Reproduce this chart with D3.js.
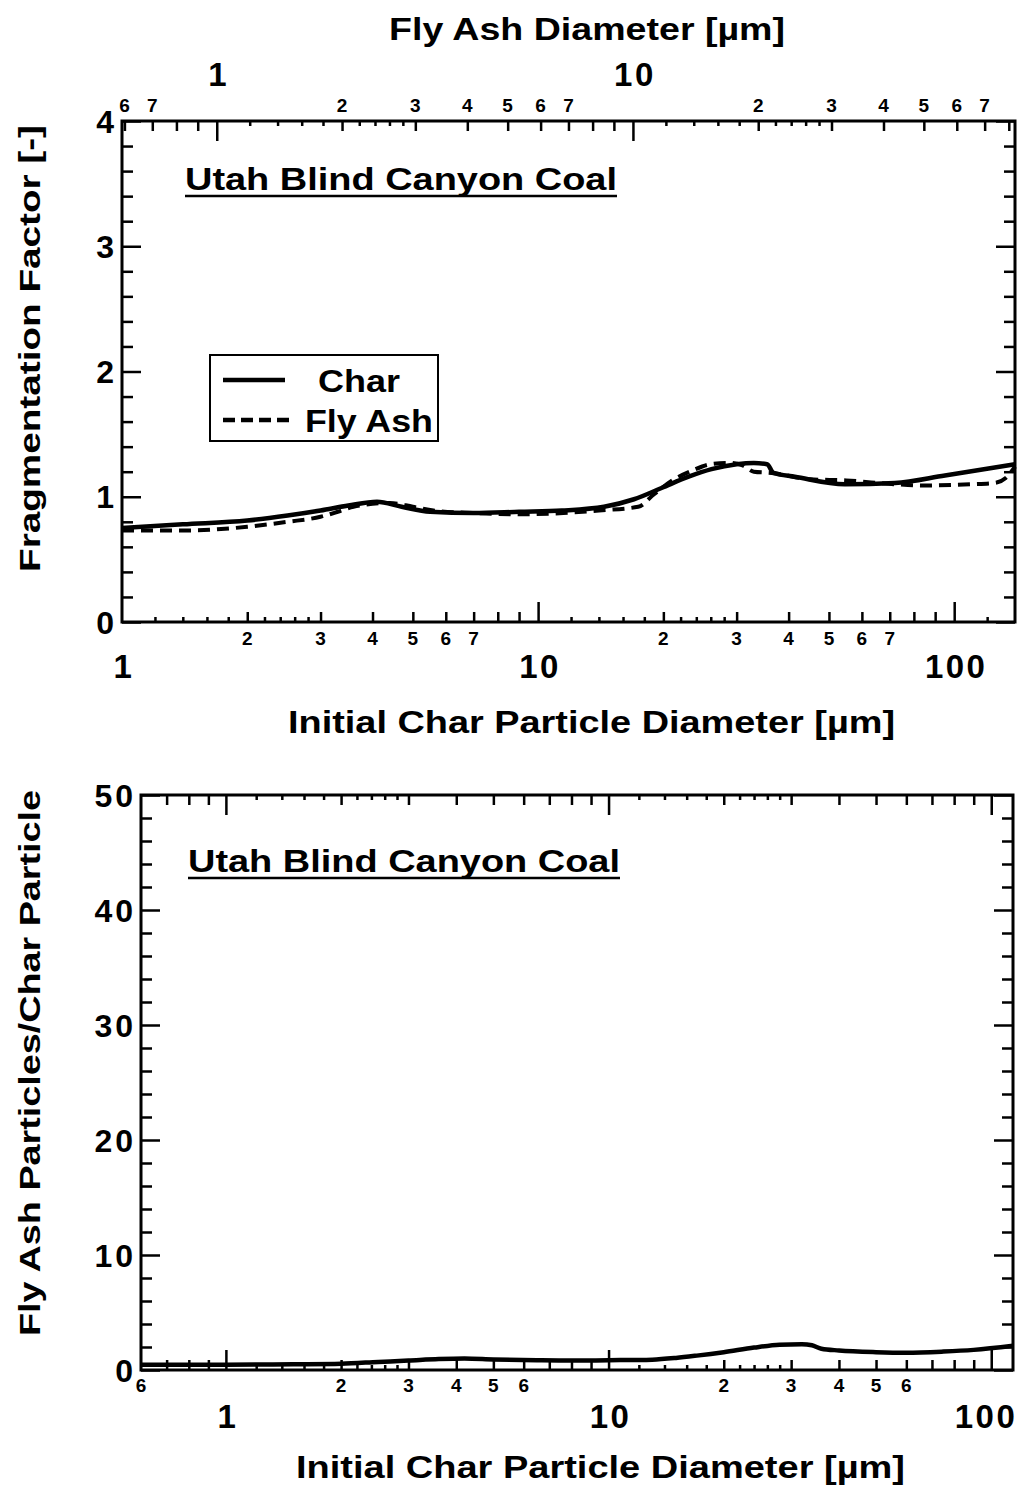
<!DOCTYPE html>
<html>
<head>
<meta charset="utf-8">
<script src="https://cdn.jsdelivr.net/npm/d3@7"></script>
<style>
  body { margin: 0; background: #fff; }
  svg { display: block; }
  text { font-family: "Liberation Sans", Arial, Helvetica, sans-serif; font-weight: bold; fill: #000; }
</style>
</head>
<body>
<svg id="chart" width="1023" height="1485"></svg>
<script>
// upper panel: fragmentation factor vs initial char diameter (um)
const charDiam   = [1, 1.4, 2, 2.5, 3, 3.5, 4.1, 4.7, 5.5, 7, 9, 11.4, 14.4, 17, 19.8, 23, 26.1, 30, 33, 35.5, 36.8, 41.4, 54.6, 72, 95, 140];
const charFactor = [0.75, 0.78, 0.81, 0.85, 0.89, 0.93, 0.96, 0.92, 0.88, 0.87, 0.88, 0.89, 0.92, 0.98, 1.07, 1.16, 1.22, 1.26, 1.27, 1.26, 1.19, 1.16, 1.10, 1.11, 1.17, 1.26];
const ashDiam    = [1, 1.4, 2, 2.5, 3, 3.3, 3.6, 4.4, 5, 5.6, 7, 9, 11.5, 14, 17.4, 19, 21, 23.5, 26, 29, 31, 33, 36.4, 45, 55, 72, 85, 110, 125, 133, 140];
const ashFactor  = [0.73, 0.73, 0.76, 0.80, 0.84, 0.88, 0.92, 0.95, 0.92, 0.89, 0.87, 0.86, 0.87, 0.89, 0.92, 1.02, 1.13, 1.21, 1.26, 1.27, 1.25, 1.20, 1.19, 1.14, 1.13, 1.10, 1.09, 1.10, 1.11, 1.15, 1.24];

// lower panel: fly ash particles per char particle
const partDiam   = [0.6, 1, 1.5, 2, 2.5, 3, 3.6, 4.2, 5, 6.5, 8, 10, 13, 15, 17, 20, 24, 28, 32, 34, 36, 40, 50, 60, 75, 90, 114];
const ashPerChar = [0.45, 0.45, 0.5, 0.55, 0.7, 0.82, 0.95, 1.0, 0.92, 0.85, 0.82, 0.85, 0.9, 1.05, 1.25, 1.55, 1.95, 2.2, 2.25, 2.15, 1.85, 1.7, 1.55, 1.5, 1.6, 1.75, 2.1];

const topYTicks = [0, 1, 2, 3, 4];
const botYTicks = [0, 10, 20, 30, 40, 50];
const mantissas = [1, 1.2, 1.4, 1.6, 1.8, 2, 2.2, 2.4, 2.6, 2.8, 3, 4, 5, 6, 7, 8, 9];
const topBottomDigits = [2, 3, 4, 5, 6, 7, 20, 30, 40, 50, 60, 70];
const topTopDigits    = [0.6, 0.7, 2, 3, 4, 5, 6, 7, 20, 30, 40, 50, 60, 70];
const botBottomDigits = [0.6, 2, 3, 4, 5, 6, 20, 30, 40, 50, 60];
const topDecades = [1, 10, 100];
const ashDecades = [1, 10];
const botDecades = [1, 10, 100];

const svg = d3.select("#chart");

// panel scales
const xTop = d3.scaleLog().domain([1, 140]).range([122, 1015]);
const xAsh = d3.scaleLog().domain([0.592, 82.8]).range([122, 1015]);
const yTop = d3.scaleLinear().domain([0, 4]).range([622, 121]);
const xBot = d3.scaleLog().domain([0.6, 114]).range([141, 1013]);
const yBot = d3.scaleLinear().domain([0, 50]).range([1370, 795]);

function logTickSets(scale) {
  const [d0, d1] = scale.domain();
  const out = { major: [], mid: [], minor: [] };
  for (let k = Math.floor(Math.log10(d0)); k <= Math.ceil(Math.log10(d1)); k++) {
    mantissas.forEach(m => {
      const v = +(m * Math.pow(10, k)).toPrecision(6);
      if (v < d0 * 1.001 || v > d1 * 0.999) return;
      if (m === 1) out.major.push(v);
      else if (Number.isInteger(m)) out.mid.push(v);
      else out.minor.push(v);
    });
  }
  return out;
}

function tickRow(axisFn, scale, values, len, tx, ty) {
  svg.append("g")
    .attr("transform", `translate(${tx},${ty})`)
    .call(axisFn(scale).tickValues(values).tickSize(-len).tickSizeOuter(0).tickFormat(""))
    .call(g => g.select(".domain").remove())
    .selectAll("line").attr("stroke", "#000").attr("stroke-width", 2.5);
}

function logAxisTicks(axisFn, scale, ty) {
  const t = logTickSets(scale);
  tickRow(axisFn, scale, t.major, 20, 0, ty);
  tickRow(axisFn, scale, t.mid, 10, 0, ty);
  tickRow(axisFn, scale, t.minor, 5, 0, ty);
}

function linAxisTicks(scale, minorStep, majorStep, x0, x1) {
  const [a, b] = scale.domain();
  const minor = d3.range(a, b + 1e-9, minorStep).filter(v => Math.abs(v / majorStep - Math.round(v / majorStep)) > 1e-6);
  const major = d3.range(a, b + 1e-9, majorStep);
  [[d3.axisLeft, x0], [d3.axisRight, x1]].forEach(([fn, x]) => {
    svg.append("g").attr("transform", `translate(${x},0)`)
      .call(fn(scale).tickValues(minor).tickSize(-11).tickSizeOuter(0).tickFormat(""))
      .call(g => g.select(".domain").remove())
      .selectAll("line").attr("stroke", "#000").attr("stroke-width", 2.5);
    svg.append("g").attr("transform", `translate(${x},0)`)
      .call(fn(scale).tickValues(major).tickSize(-19).tickSizeOuter(0).tickFormat(""))
      .call(g => g.select(".domain").remove())
      .selectAll("line").attr("stroke", "#000").attr("stroke-width", 2.5);
  });
}

const leadDigit = v => String(Math.round(v / Math.pow(10, Math.floor(Math.log10(v) + 1e-9))));

function digitLabels(values, scale, y, size) {
  svg.append("g").selectAll("text").data(values).join("text")
    .attr("x", d => scale(d)).attr("y", y)
    .attr("text-anchor", "middle").attr("font-size", size)
    .text(leadDigit);
}

// big decade labels; kept inside the page on the right
function decadeLabels(values, scale, y) {
  svg.append("g").selectAll("text").data(values).join("text")
    .attr("x", d => Math.min(scale(d) + 2, 986)).attr("y", y)
    .attr("text-anchor", "middle").attr("font-size", 33).attr("letter-spacing", 2.5)
    .text(d => String(d));
}

function yLabels(values, scale, x) {
  svg.append("g").selectAll("text").data(values).join("text")
    .attr("x", x).attr("y", scale).attr("dy", "0.36em")
    .attr("text-anchor", "end").attr("font-size", 32).attr("letter-spacing", 3)
    .text(d => String(d));
}

function fitText(x, y, str, size, width, rotate) {
  const t = svg.append("text").attr("x", x).attr("y", y).attr("font-size", size)
    .attr("textLength", width).attr("lengthAdjust", "spacingAndGlyphs").text(str);
  if (rotate) t.attr("transform", `rotate(-90,${x},${y})`);
  return t;
}

function underlinedTitle(x, y, width) {
  fitText(x, y, "Utah Blind Canyon Coal", 32, width);
  svg.append("line").attr("x1", x).attr("x2", x + width)
    .attr("y1", y + 6).attr("y2", y + 6).attr("stroke", "#000").attr("stroke-width", 2.5);
}

// ---------- upper panel ----------
linAxisTicks(yTop, 0.2, 1, 122, 1015);
logAxisTicks(d3.axisBottom, xTop, 622);
logAxisTicks(d3.axisTop, xAsh, 121);
svg.append("rect").attr("x", 122).attr("y", 121).attr("width", 1015 - 122).attr("height", 622 - 121)
  .attr("fill", "none").attr("stroke", "#000").attr("stroke-width", 3);

digitLabels(topBottomDigits, xTop, 645, 19);
decadeLabels(topDecades, xTop, 678);
digitLabels(topTopDigits, xAsh, 112, 19);
decadeLabels(ashDecades, xAsh, 86);
yLabels(topYTicks, yTop, 117);

fitText(389, 40, "Fly Ash Diameter [µm]", 32, 396);
fitText(288, 733, "Initial Char Particle Diameter [µm]", 32, 607);
fitText(40, 572, "Fragmentation Factor [-]", 30, 447, true);
underlinedTitle(185, 190, 432);

const lineTop = (xs) => d3.line().x((d, i) => xTop(xs[i])).y(d => yTop(d)).curve(d3.curveMonotoneX);
svg.append("path").datum(ashFactor).attr("d", lineTop(ashDiam))
  .attr("fill", "none").attr("stroke", "#000").attr("stroke-width", 4).attr("stroke-dasharray", "12,7");
svg.append("path").datum(charFactor).attr("d", lineTop(charDiam))
  .attr("fill", "none").attr("stroke", "#000").attr("stroke-width", 4.5);

// legend
svg.append("rect").attr("x", 210).attr("y", 355).attr("width", 228).attr("height", 86)
  .attr("fill", "#fff").attr("stroke", "#000").attr("stroke-width", 2);
svg.append("line").attr("x1", 223).attr("x2", 285).attr("y1", 380).attr("y2", 380)
  .attr("stroke", "#000").attr("stroke-width", 4.5);
svg.append("line").attr("x1", 223).attr("x2", 291).attr("y1", 420).attr("y2", 420)
  .attr("stroke", "#000").attr("stroke-width", 4.5).attr("stroke-dasharray", "12,6");
fitText(318, 392, "Char", 31, 82);
fitText(305, 432, "Fly Ash", 31, 128);

// ---------- lower panel ----------
linAxisTicks(yBot, 2, 10, 141, 1013);
logAxisTicks(d3.axisBottom, xBot, 1370);
logAxisTicks(d3.axisTop, xBot, 795);
svg.append("rect").attr("x", 141).attr("y", 795).attr("width", 1013 - 141).attr("height", 1370 - 795)
  .attr("fill", "none").attr("stroke", "#000").attr("stroke-width", 3);

digitLabels(botBottomDigits, xBot, 1392, 19);
decadeLabels(botDecades, xBot, 1428);
yLabels(botYTicks, yBot, 136);

fitText(296, 1478, "Initial Char Particle Diameter [µm]", 32, 609);
fitText(40, 1336, "Fly Ash Particles/Char Particle", 30, 546, true);
underlinedTitle(188, 872, 432);

svg.append("path").datum(ashPerChar)
  .attr("d", d3.line().x((d, i) => xBot(partDiam[i])).y(d => yBot(d)).curve(d3.curveMonotoneX))
  .attr("fill", "none").attr("stroke", "#000").attr("stroke-width", 4.5);
</script>
</body>
</html>
